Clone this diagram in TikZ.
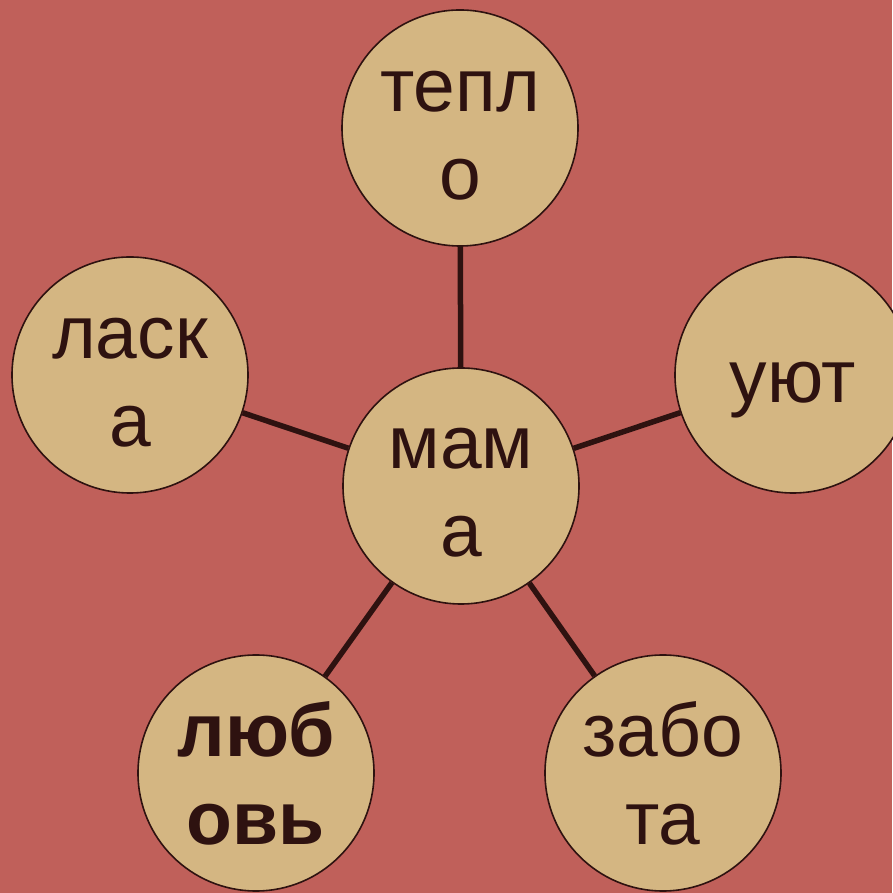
\documentclass[tikz,border=0pt]{standalone}
\usepackage{fontspec}
\setmainfont{Liberation Sans}
\usetikzlibrary{positioning}
\definecolor{bgred}{RGB}{192,96,90}
\definecolor{bubtan}{RGB}{212,182,130}
\definecolor{inkbrown}{RGB}{46,18,16}
\newcommand{\wtop}[1]{\rule{0pt}{#1}}

\begin{document}
\begin{tikzpicture}[x=1pt, y=1pt,
  bubble/.style={circle, draw=inkbrown, line width=1.6pt, fill=bubtan,
    minimum size=236pt, inner sep=0pt, align=center, text=inkbrown,
    font=\fontsize{75}{88}\selectfont},
  link/.style={draw=inkbrown, line width=5.5pt}]
% Background
\fill[bgred] (0,0) rectangle (892,893);
\useasboundingbox (0,0) rectangle (892,893);

% Centre and the five words round it
\node[bubble] (mama) at (461,407) {\wtop{54pt}мам\\а};
\node[bubble] (teplo) at (460,765) {\wtop{56pt}тепл\\о};
\node[bubble] (laska) at (130,518) {\wtop{56pt}ласк\\а};
\node[bubble] (uyut) at (793,518) {\wtop{70pt}уют};
\node[bubble, font=\fontsize{75}{88}\selectfont\bfseries] (lyubov) at (256,120) {\wtop{56pt}люб\\овь};
\node[bubble] (zabota) at (663,120) {\wtop{56pt}забо\\та};

% Links
\draw[link] (mama) -- (teplo);
\draw[link] (mama) -- (laska);
\draw[link] (mama) -- (uyut);
\draw[link] (mama) -- (lyubov);
\draw[link] (mama) -- (zabota);
\end{tikzpicture}
\end{document}
